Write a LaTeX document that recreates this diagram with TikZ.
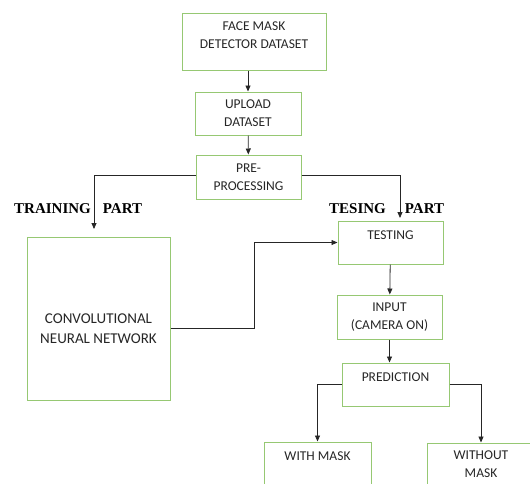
\documentclass[tikz,border=0pt]{standalone}
\usepackage{fontspec}
\setmainfont{Carlito}
\newfontfamily\partfont{Liberation Serif}
\usetikzlibrary{arrows.meta}
\definecolor{boxgreen}{RGB}{150,200,115}
\tikzset{
  blk/.style={draw=boxgreen, line width=1pt, align=center, inner sep=0pt,
    font=\fontsize{13.5}{18}\selectfont, text=black!85},
  lnk/.style={draw=black!85, line width=0.8pt},
  partlbl/.style={font=\partfont\fontsize{15}{18}\selectfont\bfseries, inner sep=0pt},
  >={Triangle[length=6pt,width=5pt]}
}
\begin{document}
\begin{tikzpicture}[x=1pt,y=-1pt]
\useasboundingbox (0,0) rectangle (530,483);
\clip (0,0) rectangle (530,483);
\node[blk, minimum width=144, minimum height=57] (fmd) at (254,41.5) {FACE MASK\\DETECTOR DATASET\\[-6pt]\mbox{}};
\node[blk, minimum width=106, minimum height=43] (upl) at (248,113.5) {UPLOAD\\DATASET};
\node[blk, minimum width=105, minimum height=44] (pre) at (248.5,177) {PRE-\\PROCESSING};
\node[blk, minimum width=143, minimum height=163, font=\fontsize{15}{20}\selectfont] (cnn) at (98.5,318.5) {\mbox{}\\[10pt]CONVOLUTIONAL\\NEURAL NETWORK};
\node[blk, minimum width=105, minimum height=43] (test) at (390.5,242.5) {TESTING\\[-4pt]\mbox{}};
\node[blk, minimum width=105, minimum height=44] (inp) at (389.5,317) {INPUT\\(CAMERA ON)};
\node[blk, minimum width=107, minimum height=43] (pred) at (395.5,384.5) {PREDICTION\\[-4pt]\mbox{}};
\node[blk, minimum width=107, minimum height=43] (with) at (317.5,463.5) {WITH MASK\\[-4pt]\mbox{}};
\node[blk, minimum width=108, minimum height=43] (wout) at (481,464.5) {WITHOUT\\MASK};
\node[partlbl, anchor=base west] (trnlbl) at (14,213) {TRAINING\hspace{12pt}PART};
\node[partlbl, anchor=base west] (tstlbl) at (329,213) {TESING\hspace{19pt}PART};
\coordinate (trn) at (94,229);
\coordinate (tst) at (400,218);
\draw[lnk,->] (fmd.south -| upl.north) -- (upl.north);
\draw[lnk,->] (upl) -- (pre);
\draw[lnk,->] ([yshift=2]pre.west) -| (trn);
\draw[lnk,->] ([yshift=2]pre.east) -| (tst);
\draw[lnk,->] ([yshift=-10]cnn.east) -- ++(84,0) |- (test.west);
\draw[lnk,->] (test) -- (inp);
\draw[lnk,->] (inp.south) -- (inp.south |- pred.north);
\draw[lnk,->] (pred.west) -| (with.north);
\draw[lnk,->] (pred.east) -| (wout.north);
\end{tikzpicture}
\end{document}
